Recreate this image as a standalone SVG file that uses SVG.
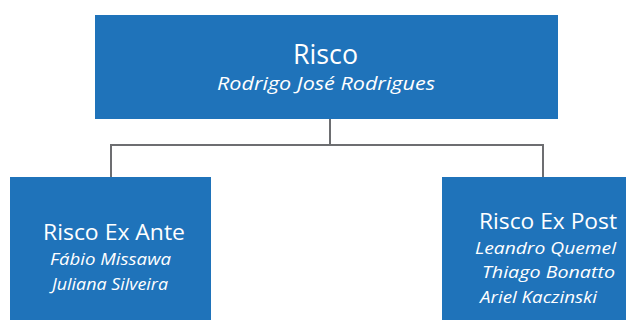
<svg xmlns="http://www.w3.org/2000/svg" width="631" height="321" viewBox="0 0 631 321">
<style>
.box{fill:#1F73BA}
.t{fill:#fff;font-family:"Open Sans","Liberation Sans",sans-serif}
.h{font-size:28px}
.h2{font-size:22px}
.s{font-size:18px;font-style:italic}
.s2{font-size:17px;font-style:italic}
.c{fill:none;stroke:#6D6E71;stroke-width:2}
</style>
<rect width="631" height="321" fill="#fff"/>
<g id="connectors">
<path class="c" d="M330 119V145M111 145H543M111 144V177M543 144V177"/>
</g>
<g id="risco">
<rect class="box" x="95" y="15" width="463" height="104"/>
<text class="t h" x="293" y="64" textLength="65" lengthAdjust="spacingAndGlyphs">Risco</text>
<text class="t s" x="217" y="90" textLength="218" lengthAdjust="spacingAndGlyphs">Rodrigo José Rodrigues</text>
</g>
<g id="ex-ante">
<rect class="box" x="10" y="177" width="201" height="143"/>
<text class="t h2" x="43" y="240" textLength="142" lengthAdjust="spacingAndGlyphs">Risco Ex Ante</text>
<text class="t s2" x="50" y="265" textLength="121" lengthAdjust="spacingAndGlyphs">Fábio Missawa</text>
<text class="t s2" x="52" y="290" textLength="116" lengthAdjust="spacingAndGlyphs">Juliana Silveira</text>
</g>
<g id="ex-post">
<rect class="box" x="442" y="177" width="184" height="143"/>
<text class="t h2" x="479" y="229" textLength="138" lengthAdjust="spacingAndGlyphs">Risco Ex Post</text>
<text class="t s2" x="475" y="254" textLength="141" lengthAdjust="spacingAndGlyphs">Leandro Quemel</text>
<text class="t s2" x="482" y="278" textLength="133" lengthAdjust="spacingAndGlyphs">Thiago  Bonatto</text>
<text class="t s2" x="480" y="303" textLength="117" lengthAdjust="spacingAndGlyphs">Ariel Kaczinski</text>
</g>
</svg>
